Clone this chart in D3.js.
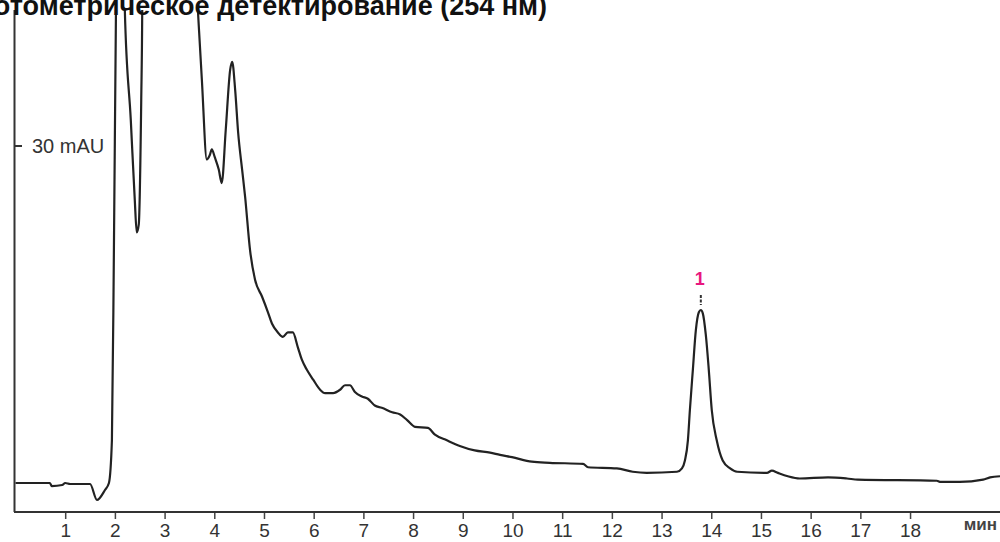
<!DOCTYPE html>
<html>
<head>
<meta charset="utf-8">
<script src="https://cdn.jsdelivr.net/npm/d3@7"></script>
<style>
  body { margin: 0; background: #fff; }
  svg { display: block; font-family: "Liberation Sans", Arial, sans-serif; }
</style>
</head>
<body>
<svg width="1000" height="542"></svg>
<script>
// chromatogram data: time (min) and signal (mAU)
const times = [0, 0.69, 0.73, 0.94, 1.0, 1.10, 1.50, 1.64, 1.80, 1.88, 1.94, 1.98, 2.02, 2.12, 2.20, 2.32, 2.40, 2.44, 2.48, 2.53, 2.55, 2.58, 2.65, 2.8, 3.1, 3.5, 3.62,
  3.67, 3.75, 3.85, 3.91, 3.95, 4.01, 4.09, 4.15, 4.23, 4.32, 4.36, 4.42, 4.48, 4.56, 4.62, 4.72, 4.82, 4.96, 5.08, 5.16, 5.28, 5.38, 5.48, 5.58, 5.68, 5.76, 5.86, 5.99,
  6.13, 6.23, 6.39, 6.53, 6.63, 6.73, 6.83, 6.97, 7.09, 7.23, 7.37, 7.58, 7.74, 7.88, 8.04, 8.30, 8.44, 8.68, 8.94, 9.24, 9.55, 9.75, 9.99, 10.39, 10.75, 11.42, 11.52,
  12.10, 12.42, 12.70, 13.31, 13.41, 13.47, 13.53, 13.57, 13.63, 13.69, 13.75, 13.79, 13.83, 13.89, 13.95, 14.01, 14.11, 14.23, 14.38, 14.52, 15.12, 15.22, 15.34, 15.54,
  15.78, 16.35, 16.73, 16.95, 18.54, 18.60, 19.00, 19.47, 19.61, 19.81];
const signal = [0, 0, -0.27, -0.18, 0, -0.09, -0.09, -1.51, -0.62, 0, 3.8, 20.7, 41.2, 70, 42.1, 32.3, 25.2, 22.3, 23.0, 34.1, 42.1, 80, 60, 48, 52, 55, 46,
  42.1, 35.9, 28.8, 29.2, 29.7, 29.0, 27.9, 26.7, 31.4, 36.8, 37.5, 35.0, 31.2, 27.9, 25.5, 20.7, 18.1, 16.6, 15.2, 14.2, 13.4, 13.0, 13.4, 13.4, 12.1, 11.0, 10.1, 9.2,
  8.3, 8.0, 8.0, 8.3, 8.7, 8.7, 8.1, 7.7, 7.5, 6.9, 6.7, 6.3, 6.1, 5.6, 5.0, 4.9, 4.3, 3.8, 3.3, 2.9, 2.7, 2.5, 2.3, 1.9, 1.8, 1.7, 1.4,
  1.3, 1.0, 0.9, 1.0, 1.3, 2.0, 3.8, 6.5, 10.1, 13.6, 15.2, 15.4, 15.1, 13.2, 10.1, 6.5, 3.8, 2.0, 1.3, 1.0, 0.9, 1.1, 0.9, 0.6,
  0.4, 0.5, 0.4, 0.3, 0.2, 0.1, 0.1, 0.3, 0.5, 0.6];

const xTicks = d3.range(1, 19);
const yTicks = [30];
const peakTimes = [13.79];
const peakLabels = ["1"];

const svg = d3.select("svg");

const x = d3.scaleLinear().domain([0, 19.81]).range([15.5, 1000]);
const y = d3.scaleLinear().domain([0, 30]).range([483, 146]);

// clip the trace so the big peaks are cut at the top
svg.append("clipPath").attr("id", "clip")
  .append("rect").attr("x", 0).attr("y", 10).attr("width", 1000).attr("height", 502);

const line = d3.line()
  .x((d, i) => x(times[i]))
  .y(d => y(d))
  .curve(d3.curveMonotoneX);

svg.append("path")
  .datum(signal)
  .attr("clip-path", "url(#clip)")
  .attr("d", line)
  .attr("fill", "none")
  .attr("stroke", "#222")
  .attr("stroke-width", 2.2)
  .attr("stroke-linejoin", "round");

// x axis
const xAxis = svg.append("g")
  .attr("transform", "translate(0,512)")
  .call(d3.axisBottom(x).tickValues(xTicks).tickSize(7).tickSizeOuter(0));
xAxis.select(".domain").remove();
xAxis.append("line").attr("x1", 14).attr("x2", 1000).attr("stroke", "#333").attr("stroke-width", 2);
xAxis.selectAll(".tick line").attr("stroke", "#444").attr("stroke-width", 1.5);
xAxis.selectAll(".tick text")
  .attr("y", 25).attr("dy", null)
  .attr("fill", "#333")
  .style("font-size", "19px")
  .style("font-family", "'Liberation Sans Narrow', 'Liberation Sans', Arial, sans-serif");

svg.append("text")
  .attr("x", 997).attr("y", 530)
  .attr("text-anchor", "end")
  .attr("fill", "#444")
  .style("font-size", "17px")
  .style("font-weight", "bold")
  .text("мин");

// y axis
svg.append("line")
  .attr("x1", 14.5).attr("x2", 14.5).attr("y1", 10).attr("y2", 512)
  .attr("stroke", "#333").attr("stroke-width", 2);

svg.selectAll(".ytick").data(yTicks).enter().append("line")
  .attr("x1", 14).attr("x2", 22)
  .attr("y1", d => y(d)).attr("y2", d => y(d))
  .attr("stroke", "#333").attr("stroke-width", 2);

svg.selectAll(".ylab").data(yTicks).enter().append("text")
  .attr("x", 32).attr("y", d => y(d) + 7)
  .attr("fill", "#333")
  .style("font-size", "20px")
  .text(d => d + " mAU");

// peak label
svg.selectAll(".pk").data(peakTimes).enter().append("line")
  .attr("x1", d => x(d)).attr("x2", d => x(d))
  .attr("y1", 295).attr("y2", 305)
  .attr("stroke", "#333").attr("stroke-width", 2)
  .attr("stroke-dasharray", "3,1.5");

svg.selectAll(".pklab").data(peakTimes).enter().append("text")
  .attr("x", d => x(d) - 1).attr("y", 285)
  .attr("text-anchor", "middle")
  .attr("fill", "#e8177f")
  .style("font-size", "18px")
  .style("font-weight", "bold")
  .text((d, i) => peakLabels[i]);

// title, cut off at the top-left like the original
svg.append("text")
  .attr("x", 547).attr("y", 15)
  .attr("text-anchor", "end")
  .attr("fill", "#111")
  .style("font-size", "27px")
  .style("font-weight", "bold")
  .text("Фотометрическое детектирование (254 нм)");
</script>
</body>
</html>
